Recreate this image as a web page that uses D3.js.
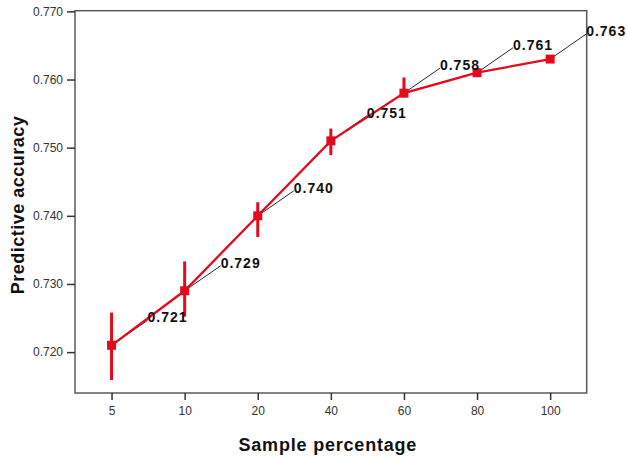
<!DOCTYPE html>
<html>
<head>
<meta charset="utf-8">
<script src="https://cdn.jsdelivr.net/npm/d3@7"></script>
<style>
  html, body { margin: 0; padding: 0; background: #fff; }
  svg { display: block; font-family: "Liberation Sans", Arial, sans-serif; }
</style>
</head>
<body>
<svg id="chart" width="627" height="461"></svg>
<script>
// Sample percentage categories and mean predictive accuracy
const categories = ["5", "10", "20", "40", "60", "80", "100"];
const accuracy = [0.721, 0.729, 0.740, 0.751, 0.758, 0.761, 0.763];
// Error bar extents
const lower = [0.7159, 0.7252, 0.7369, 0.7489, 0.7574, 0.7608, 0.7627];
const upper = [0.7258, 0.7333, 0.7420, 0.7528, 0.7603, 0.7616, 0.7633];
const labels = ["0.721", "0.729", "0.740", "0.751", "0.758", "0.761", "0.763"];
const yTicks = [0.720, 0.730, 0.740, 0.750, 0.760, 0.770];

const rows = categories.map((c, i) => ({
  cat: c, v: accuracy[i], lo: lower[i], hi: upper[i], label: labels[i]
}));

const svg = d3.select("#chart");
const plotL = 75, plotR = 586.7, plotT = 10.7, plotB = 393;
const red = "#e5091c";
const axisColor = "#5a5a5a";

const x = d3.scalePoint().domain(categories).range([plotL, plotR]).padding(0.5);
const y = d3.scaleLinear().domain([0.7140, 0.7701]).range([plotB, plotT]);

// frame
svg.append("rect")
  .attr("x", plotL).attr("y", plotT)
  .attr("width", plotR - plotL).attr("height", plotB - plotT)
  .attr("fill", "none").attr("stroke", axisColor).attr("stroke-width", 1.5);

// y axis
const yAxis = svg.append("g")
  .attr("transform", `translate(${plotL},0)`)
  .call(d3.axisLeft(y).tickValues(yTicks).tickFormat(d3.format(".3f"))
    .tickSize(8).tickPadding(4));
yAxis.select(".domain").remove();
yAxis.selectAll(".tick line").attr("stroke", "#333").attr("stroke-width", 1.5);
yAxis.selectAll(".tick text").attr("fill", "#333")
  .style("font-size", "12px").style("font-family", "'Liberation Sans', Arial, sans-serif");

// x axis
const xAxis = svg.append("g")
  .attr("transform", `translate(0,${plotB})`)
  .call(d3.axisBottom(x).tickSize(7).tickPadding(6));
xAxis.select(".domain").remove();
xAxis.selectAll(".tick line").attr("stroke", "#333").attr("stroke-width", 1.5);
xAxis.selectAll(".tick text").attr("fill", "#333")
  .style("font-size", "12px").style("font-family", "'Liberation Sans', Arial, sans-serif");

// axis titles
svg.append("text")
  .attr("x", (plotL + plotR) / 2 - 3).attr("y", 451)
  .attr("text-anchor", "middle")
  .style("font-size", "18px").style("font-weight", "bold").style("letter-spacing", "0.8px")
  .attr("fill", "#111")
  .text("Sample percentage");

svg.append("text")
  .attr("transform", "translate(24,205) rotate(-90)")
  .attr("text-anchor", "middle")
  .style("font-size", "18px").style("font-weight", "bold").style("letter-spacing", "0.5px")
  .attr("fill", "#111")
  .text("Predictive accuracy");

// leader lines to value labels
const dx = 36, dy = -25;
svg.append("g").selectAll("line").data(rows).join("line")
  .attr("x1", d => x(d.cat)).attr("y1", d => y(d.v))
  .attr("x2", d => x(d.cat) + dx).attr("y2", d => y(d.v) + dy)
  .attr("stroke", "#111").attr("stroke-width", 0.9);

// mean line
svg.append("path")
  .datum(rows)
  .attr("fill", "none").attr("stroke", red).attr("stroke-width", 2.3)
  .attr("d", d3.line().x(d => x(d.cat)).y(d => y(d.v)));

// error bars
svg.append("g").selectAll("line").data(rows).join("line")
  .attr("x1", d => x(d.cat)).attr("x2", d => x(d.cat))
  .attr("y1", d => y(d.lo)).attr("y2", d => y(d.hi))
  .attr("stroke", red).attr("stroke-width", 3);

// markers
const ms = 9;
svg.append("g").selectAll("rect").data(rows).join("rect")
  .attr("x", d => x(d.cat) - ms / 2).attr("y", d => y(d.v) - ms / 2)
  .attr("width", ms).attr("height", ms)
  .attr("fill", red);

// value labels
svg.append("g").selectAll("text").data(rows).join("text")
  .attr("x", d => x(d.cat) + dx).attr("y", d => y(d.v) + dy - 3)
  .attr("dominant-baseline", "central")
  .style("font-size", "14px").style("font-weight", "bold").style("letter-spacing", "1px")
  .attr("fill", "#111")
  .text(d => d.label);
</script>
</body>
</html>
